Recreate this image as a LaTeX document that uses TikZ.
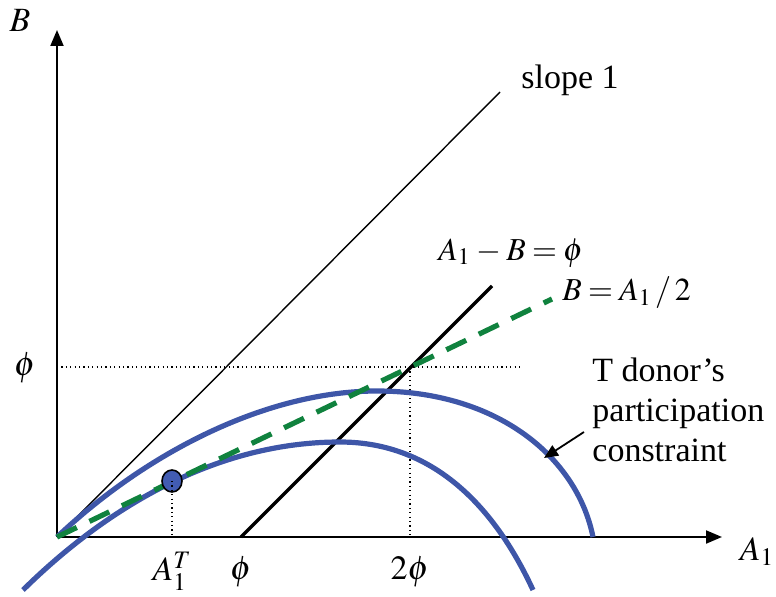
\documentclass[tikz,border=0pt]{standalone}
\usepackage{mathptmx}
\usepackage[no-math]{fontspec}
\setmainfont{Liberation Serif}
\usepackage{tikz}
\usetikzlibrary{arrows.meta, positioning, calc, shapes.geometric}
\definecolor{myblue}{RGB}{62,86,168}
\definecolor{mygreen}{RGB}{16,130,62}
\definecolor{mydot}{RGB}{66,92,178}
\newcommand{\tightmu}{\medmuskip=3mu\relax\thickmuskip=3.5mu\relax}
\tikzset{
  axis/.style={line width=1pt, -{Triangle[length=8pt,width=6.5pt]}},
  pcurve/.style={line width=2.6pt, color=myblue},
  halfline/.style={line width=2.6pt, color=mygreen, dash pattern=on 11pt off 7pt},
  slopeline/.style={line width=0.7pt},
  philine/.style={line width=1.7pt},
  guide/.style={line width=0.6pt, dash pattern=on 0.6pt off 1.6pt},
  dotnode/.style={ellipse, draw, fill=mydot, line width=0.8pt,
    minimum width=10pt, minimum height=11pt, inner sep=0pt},
  lbl/.style={font=\fontsize{17}{20}\selectfont, inner sep=0pt},
  mlbl/.style={font=\fontsize{16}{19}\selectfont, inner sep=0pt, anchor=west},
  arrow/.style={-{Triangle[length=7pt,width=6pt]}, line width=0.9pt}
}
\begin{document}
\begin{tikzpicture}[x=0.5pt, y=0.5pt]
  \useasboundingbox (-57,-59) rectangle (719,537);

  % Axes
  \coordinate (O) at (0,0);
  \coordinate (ytip) at (0,507);
  \coordinate (xtip) at (665,0);
  \draw[axis] (O) -- (ytip);
  \draw[axis] (O) -- (xtip);
  \node[lbl] (Blbl) at (-37,517) {$B$};
  \node[lbl] (Albl) at (700,-15) {$A_1$};

  % Guide lines at phi and 2phi
  \coordinate (phiy) at (0,170);
  \coordinate (twophi) at (353,170);
  \coordinate (guideend) at (463,170);
  \draw[guide] (phiy) -- (guideend);
  \draw[guide] (twophi) -- (twophi |- O);
  \node[lbl] (philbl) at (-32,169) {$\phi$};

  % Slope 1 line
  \coordinate (s1end) at (443,445);
  \draw[slopeline] (O) -- (s1end);
  \node[lbl] (s1lbl) at (513,457) {slope 1};

  % A1 - B = phi
  \coordinate (phix) at (184,0);
  \coordinate (phiend) at (435,251);
  \draw[philine] (phix) -- (phiend);
  \node[mlbl] (diflbl) at (381,284) {$\tightmu A_{1} - B = \phi$};

  % Participation constraints
  \draw[pcurve] (0,0) .. controls (90,85) and (210,146) .. (320,146)
    .. controls (440,146) and (520,80) .. (536,0);
  \draw[pcurve] (-34,-53) .. controls (40,20) and (150,95) .. (283,95)
    .. controls (380,95) and (440,25) .. (476,-53);

  % B = A1/2
  \coordinate (halfend) at (495,238);
  \draw[halfline] (O) -- (halfend);
  \node[mlbl] (halflbl) at (505,244) {$\tightmu B = A_{1}\,/\,2$};

  % Point A1^T
  \node[dotnode] (dotT) at (115,56) {};
  \draw[guide] (dotT.center) -- (dotT |- O);

  % Tick labels
  \node[lbl] (ATlbl) at (115,-34) {$A_1^T$};
  \node[lbl] (phixlbl) at (184,-35) {$\phi$};
  \node[lbl] (twophilbl) at (353,-35) {$2\phi$};

  % Constraint label
  \node[lbl, anchor=west, align=left] (tdonor) at (535,127)
    {T donor's\\participation\\constraint};
  \coordinate (arrtip) at (487,79);
  \draw[arrow] ($(tdonor.west)+(-8,-22)$) -- (arrtip);
\end{tikzpicture}
\end{document}
